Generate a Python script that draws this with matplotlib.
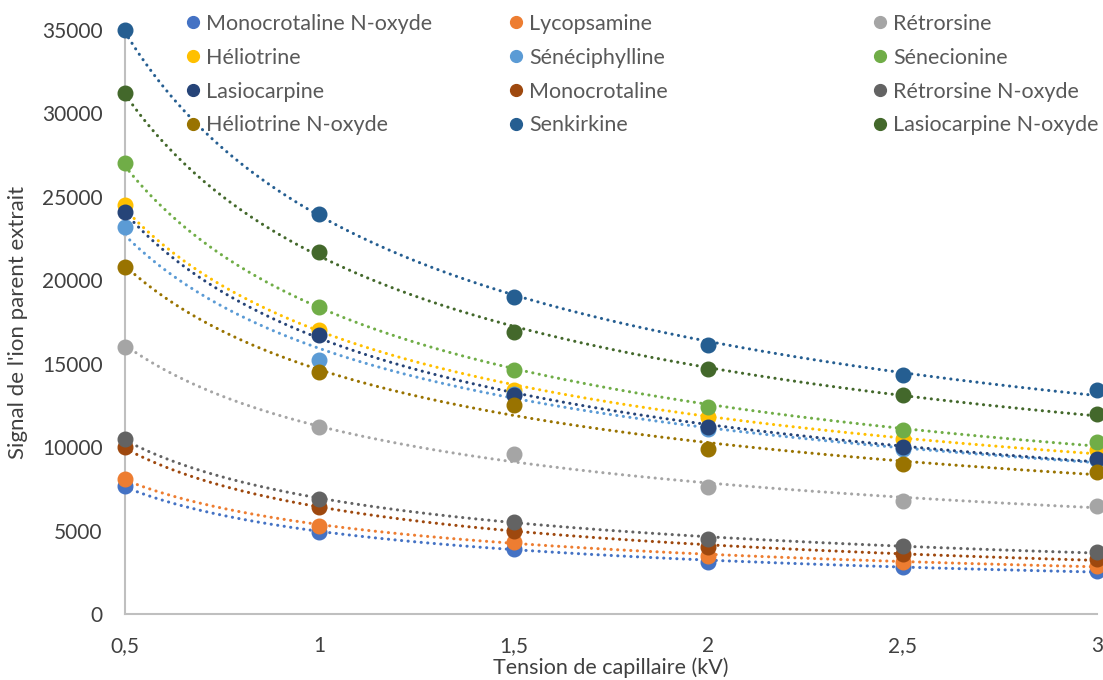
import numpy as np
import matplotlib
matplotlib.use("Agg")
import matplotlib.pyplot as plt
from matplotlib.lines import Line2D
from matplotlib.ticker import FuncFormatter

plt.rcParams['font.family'] = ['Lato', 'DejaVu Sans']

tension = [0.5, 1.0, 1.5, 2.0, 2.5, 3.0]

names = ["Monocrotaline N-oxyde", "Lycopsamine", "Rétrorsine",
         "Héliotrine", "Sénéciphylline", "Sénecionine",
         "Lasiocarpine", "Monocrotaline", "Rétrorsine N-oxyde",
         "Héliotrine N-oxyde", "Senkirkine", "Lasiocarpine N-oxyde"]

monocrotaline_n_oxyde = [7700, 4900, 3900, 3100, 2800, 2600]
lycopsamine           = [8100, 5300, 4300, 3500, 3100, 2900]
retrorsine            = [16000, 11200, 9600, 7600, 6800, 6500]
heliotrine            = [24500, 17000, 13400, 11800, 10500, 9800]
senecipylline         = [23200, 15200, 13200, 11100, 9900, 9200]
senecionine           = [27000, 18400, 14600, 12400, 11000, 10300]
lasiocarpine          = [24100, 16700, 13100, 11200, 10000, 9300]
monocrotaline         = [10000, 6400, 5000, 4000, 3600, 3300]
retrorsine_n_oxyde    = [10500, 6900, 5500, 4500, 4100, 3700]
heliotrine_n_oxyde    = [20800, 14500, 12500, 9900, 9000, 8500]
senkirkine            = [35000, 24000, 19000, 16100, 14300, 13400]
lasiocarpine_n_oxyde  = [31200, 21700, 16900, 14700, 13100, 12000]

series = [monocrotaline_n_oxyde, lycopsamine, retrorsine,
          heliotrine, senecipylline, senecionine,
          lasiocarpine, monocrotaline, retrorsine_n_oxyde,
          heliotrine_n_oxyde, senkirkine, lasiocarpine_n_oxyde]

colors = ["#4472C4", "#ED7D31", "#A5A5A5",
          "#FFC000", "#5B9BD5", "#70AD47",
          "#264478", "#9E480E", "#636363",
          "#997300", "#255E91", "#43682B"]

fig = plt.figure(figsize=(11.03, 6.8), dpi=100)
ax = fig.add_axes([125/1103, 1-614/680, (1097-125)/1103, (614-30)/680])

xs = np.linspace(0.5, 3.0, 200)
for vals, c in zip(series, colors):
    x = np.array(tension); y = np.array(vals, dtype=float)
    b, lna = np.polyfit(np.log(x), np.log(y), 1)
    ax.plot(xs, np.exp(lna) * xs**b, color=c, lw=2.2,
            linestyle=(0, (0.05, 2.1)), dash_capstyle='round', zorder=2, clip_on=False)
for vals, c in zip(series, colors):
    ax.plot(tension, vals, 'o', color=c, ms=10.5, mec=c, zorder=3, clip_on=False)

ax.set_xlim(0.5, 3.0)
ax.set_ylim(0, 35000)
ax.set_xticks(tension)
ax.set_yticks(range(0, 35001, 5000))
ax.xaxis.set_major_formatter(FuncFormatter(lambda v, p: f"{v:g}".replace('.', ',')))
for s in ['top', 'right']:
    ax.spines[s].set_visible(False)
for s in ['left', 'bottom']:
    ax.spines[s].set_color('#BFBFBF')
    ax.spines[s].set_linewidth(1.5)
ax.tick_params(length=0, labelsize=15, colors='#404040')
ax.tick_params(axis='x', pad=16)
ax.tick_params(axis='y', pad=16)
ax.set_xlabel("Tension de capillaire (kV)", fontsize=15.5, color='#404040', labelpad=1)
ax.set_ylabel("Signal de l'ion parent extrait", fontsize=16, color='#404040', labelpad=10)

# legend: three columns placed separately
col_x = [187/1103, 510/1103, 874/1103]
for ci in range(3):
    idx = [ci + 3 * r for r in range(4)]
    handles = [Line2D([], [], marker='o', ls='none', color=colors[i], ms=8.5) for i in idx]
    leg = fig.legend(handles, [names[i] for i in idx], loc='upper left',
                     bbox_to_anchor=(col_x[ci], 1 - 14/680), frameon=False,
                     fontsize=15.5, handlelength=0.6, handletextpad=0.3,
                     labelspacing=0.64, borderpad=0, borderaxespad=0)
    for t in leg.get_texts():
        t.set_color('#595959')

fig.savefig("out.png", dpi=100)
